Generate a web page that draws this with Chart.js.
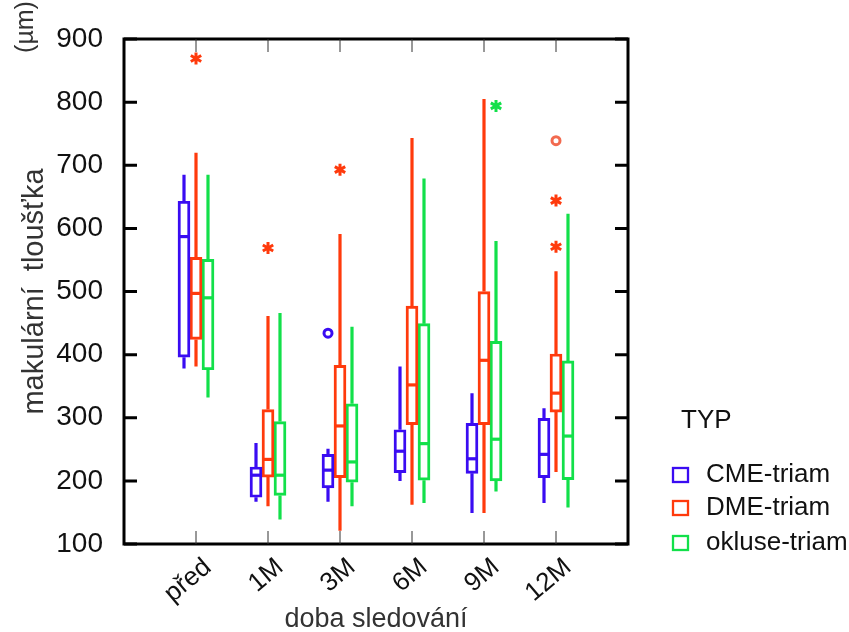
<!DOCTYPE html>
<html>
<head>
<meta charset="utf-8">
<script src="https://cdn.jsdelivr.net/npm/chart.js@4.4.1/dist/chart.umd.min.js"></script>
<style>
  html, body { margin: 0; padding: 0; background: #fff; }
  canvas { display: block; }
</style>
</head>
<body>
<canvas id="boxChart" width="849" height="632"></canvas>
<script>
// ---- data (µm) ----
const categories = ["před", "1M", "3M", "6M", "9M", "12M"];
const yTicks = [100, 200, 300, 400, 500, 600, 700, 800, 900];

// CME-triam
const cmeLo  = [378, 167, 167, 200, 149, 165];
const cmeQ1  = [396, 174, 189, 213, 212, 205];
const cmeMed = [587, 209, 217, 247, 235, 242];
const cmeQ3  = [643, 222, 242, 281, 291, 299];
const cmeHi  = [685, 260, 251, 381, 339, 315];
const cmeOut = [{ cat: "3M", v: 434, mark: "o" }];

// DME-triam
const dmeLo  = [381, 160, 121, 162, 149, 214];
const dmeQ1  = [424, 206, 205, 289, 289, 309];
const dmeMed = [497, 234, 287, 352, 391, 339];
const dmeQ3  = [554, 313, 383, 477, 500, 401];
const dmeHi  = [720, 461, 591, 743, 805, 532];
const dmeOut = [
  { cat: "před", v: 869, mark: "*" },
  { cat: "1M", v: 569, mark: "*" },
  { cat: "3M", v: 693, mark: "*" },
  { cat: "12M", v: 739, mark: "o" },
  { cat: "12M", v: 644, mark: "*" },
  { cat: "12M", v: 571, mark: "*" }
];

// okluse-triam
const oklLo  = [332, 139, 160, 165, 183, 158];
const oklQ1  = [376, 177, 198, 201, 200, 202];
const oklMed = [490, 209, 230, 259, 266, 271];
const oklQ3  = [551, 294, 322, 449, 421, 390];
const oklHi  = [685, 466, 444, 679, 580, 623];
const oklOut = [{ cat: "9M", v: 794, mark: "*" }];

const FONT = "'Liberation Sans', Arial, Helvetica, sans-serif";
Chart.defaults.font.family = FONT;

// empty slot on each side so categories sit 1/7 apart like the original
const labels = ["", ...categories, ""];

function boxSeries(label, color, lo, q1, med, q3, hi, out) {
  return {
    label,
    data: [null, ...categories.map((c, i) => [q1[i], q3[i]]), null],
    backgroundColor: "rgba(255,255,255,0)",
    borderColor: color,
    borderWidth: 2.3,
    borderSkipped: false,
    barThickness: 12,
    lo, med, hi, out
  };
}

/* ---- whiskers, medians and outliers on top of the bars ---- */
const boxPartsPlugin = {
  id: "boxParts",
  afterDatasetsDraw(chart) {
    const { ctx, scales } = chart;
    const y = scales.y;
    chart.data.datasets.forEach((ds, d) => {
      const meta = chart.getDatasetMeta(d);
      ctx.save();
      ctx.strokeStyle = ds.borderColor;
      ctx.lineCap = "butt";
      categories.forEach((c, i) => {
        const bar = meta.data[i + 1];
        if (!bar) return;
        const x = bar.x;
        const half = bar.width / 2;
        const [q1, q3] = ds.data[i + 1];
        ctx.lineWidth = 3.2;
        ctx.beginPath();
        ctx.moveTo(x, y.getPixelForValue(q3));
        ctx.lineTo(x, y.getPixelForValue(ds.hi[i]));
        ctx.moveTo(x, y.getPixelForValue(q1));
        ctx.lineTo(x, y.getPixelForValue(ds.lo[i]));
        ctx.stroke();
        ctx.beginPath();
        const ym = y.getPixelForValue(ds.med[i]);
        ctx.moveTo(x - half + 1, ym);
        ctx.lineTo(x + half - 1, ym);
        ctx.stroke();
      });
      ds.out.forEach(o => {
        const bar = meta.data[categories.indexOf(o.cat) + 1];
        const x = bar.x;
        const py = y.getPixelForValue(o.v);
        if (o.mark === "*") {
          ctx.lineWidth = 3;
          ctx.strokeStyle = ds.borderColor;
          ctx.beginPath();
          [90, 30, -30].forEach(a => {
            const r = 6, t = a * Math.PI / 180;
            ctx.moveTo(x - r * Math.cos(t), py + r * Math.sin(t));
            ctx.lineTo(x + r * Math.cos(t), py - r * Math.sin(t));
          });
          ctx.stroke();
        } else {
          ctx.lineWidth = 3;
          ctx.strokeStyle = ds.label === "DME-triam" ? "#f26a4f" : ds.borderColor;
          ctx.beginPath();
          ctx.arc(x, py, 4, 0, Math.PI * 2);
          ctx.stroke();
        }
      });
      ctx.restore();
    });
  }
};

/* ---- frame with inward ticks, unit label and the TYP legend ---- */
const framePlugin = {
  id: "frame",
  afterDraw(chart) {
    const { ctx, chartArea: a, scales } = chart;
    ctx.save();
    ctx.strokeStyle = "#000";
    ctx.lineWidth = 3;
    ctx.strokeRect(a.left, a.top, a.right - a.left, a.bottom - a.top);

    ctx.beginPath();
    yTicks.forEach(v => {
      const py = scales.y.getPixelForValue(v);
      ctx.moveTo(a.left, py);
      ctx.lineTo(a.left + 13, py);
      ctx.moveTo(a.right - 13, py);
      ctx.lineTo(a.right, py);
    });
    ctx.stroke();

    ctx.lineWidth = 1;
    ctx.strokeStyle = "#333";
    ctx.beginPath();
    categories.forEach((c, i) => {
      const px = scales.x.getPixelForValue(i + 1);
      ctx.moveTo(px, a.bottom);
      ctx.lineTo(px, a.bottom - 13);
      ctx.moveTo(px, a.top);
      ctx.lineTo(px, a.top + 13);
    });
    ctx.stroke();

    // unit label above the y title
    ctx.fillStyle = "#333";
    ctx.font = "25px " + FONT;
    ctx.textAlign = "center";
    ctx.textBaseline = "middle";
    ctx.save();
    ctx.translate(26, a.top - 12);
    ctx.rotate(-Math.PI / 2);
    ctx.fillText("(µm)", 0, 0);
    ctx.restore();

    // legend
    ctx.font = "26px " + FONT;
    ctx.fillStyle = "#111";
    ctx.textAlign = "left";
    ctx.fillText("TYP", a.right + 53, a.bottom - 123);
    const rows = [a.bottom - 69, a.bottom - 36, a.bottom - 1];
    chart.data.datasets.forEach((ds, d) => {
      ctx.strokeStyle = ds.borderColor;
      ctx.lineWidth = 2.3;
      ctx.strokeRect(a.right + 45, rows[d] - 7, 15, 14);
      ctx.fillStyle = "#111";
      ctx.fillText(ds.label, a.right + 78, rows[d]);
    });
    ctx.restore();
  }
};

new Chart(document.getElementById("boxChart"), {
  type: "bar",
  data: {
    labels,
    datasets: [
      boxSeries("CME-triam", "#3a0cf2", cmeLo, cmeQ1, cmeMed, cmeQ3, cmeHi, cmeOut),
      boxSeries("DME-triam", "#ff3a0c", dmeLo, dmeQ1, dmeMed, dmeQ3, dmeHi, dmeOut),
      boxSeries("okluse-triam", "#12e04a", oklLo, oklQ1, oklMed, oklQ3, oklHi, oklOut)
    ]
  },
  options: {
    responsive: false,
    animation: false,
    layout: { padding: { top: 39, right: 221, left: 0, bottom: 0 } },
    plugins: {
      legend: { display: false },
      tooltip: { enabled: false }
    },
    scales: {
      x: {
        type: "category",
        offset: false,
        grid: { display: false, drawTicks: false },
        border: { display: false },
        ticks: {
          autoSkip: false,
          minRotation: 40,
          maxRotation: 40,
          padding: 8,
          labelOffset: 12,
          color: "#111",
          font: { size: 26 }
        },
        title: {
          display: true,
          text: "doba sledování",
          color: "#333",
          font: { size: 27 },
          padding: { top: 0, bottom: -4 }
        },
        afterFit(scale) { scale.height = 88; }
      },
      y: {
        min: 100,
        max: 900,
        grid: { display: false, drawTicks: false },
        border: { display: false },
        ticks: {
          stepSize: 100,
          padding: 21,
          color: "#111",
          font: { size: 28 }
        },
        title: {
          display: true,
          text: "makulární  tloušťka",
          color: "#333",
          font: { size: 29 },
          padding: { top: 18, bottom: 0 }
        },
        afterFit(scale) { scale.width = 124; }
      }
    }
  },
  plugins: [boxPartsPlugin, framePlugin]
});
</script>
</body>
</html>
